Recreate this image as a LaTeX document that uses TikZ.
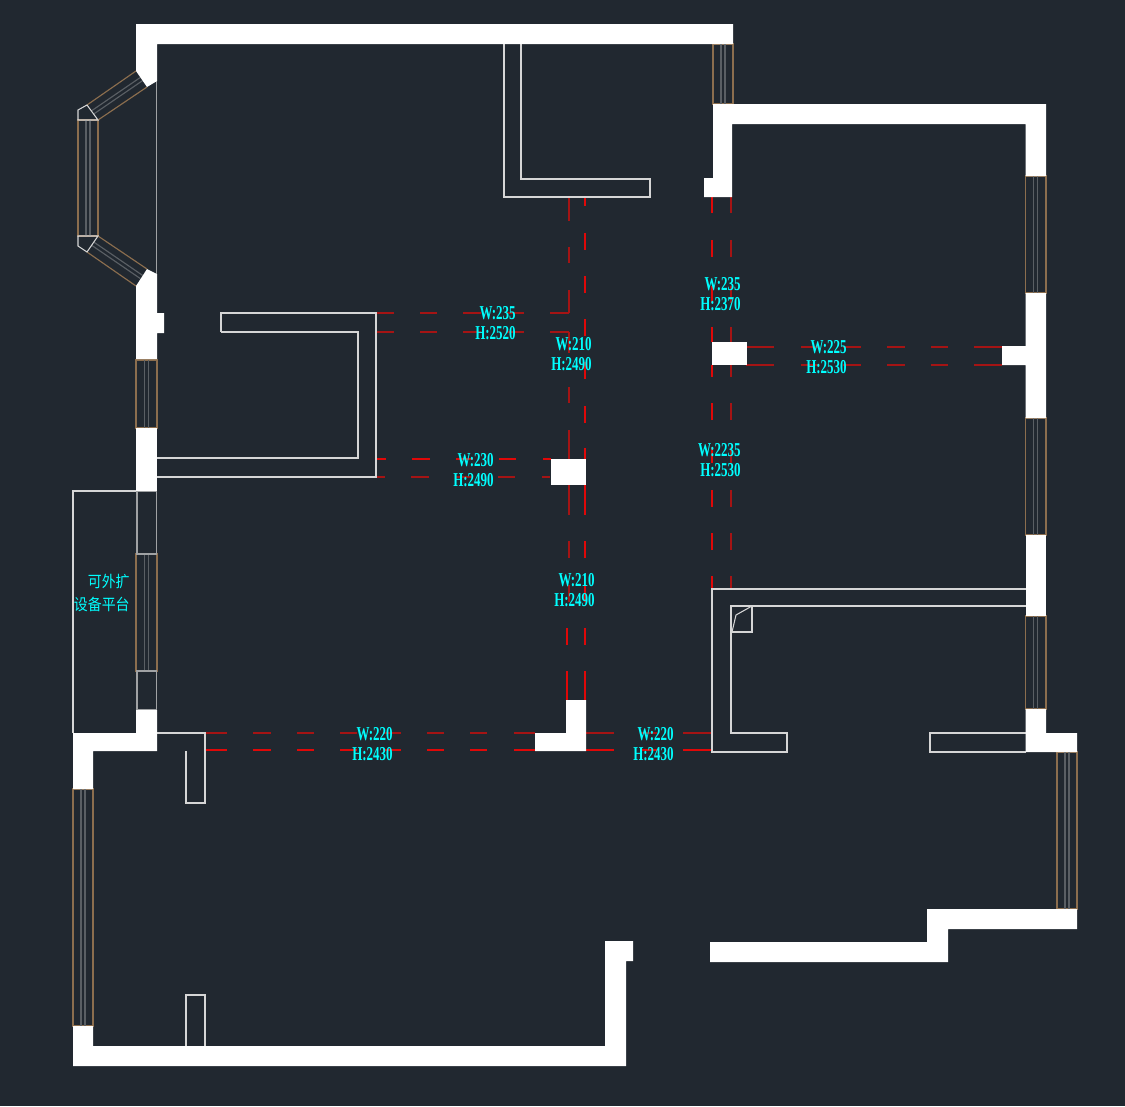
\documentclass[tikz,border=0pt]{standalone}
\usepackage{fontspec}
\setmainfont{Liberation Serif}
\newfontfamily\dimfont[FakeStretch=0.66]{Liberation Serif}
\newfontfamily\cjkfont[FakeStretch=0.88]{Noto Sans CJK SC}
\definecolor{bgcol}{HTML}{212830}
\definecolor{dimred}{HTML}{E00808}
\definecolor{dimdark}{HTML}{A51414}
\definecolor{dimtext}{HTML}{00FFFF}
\definecolor{winbrown}{HTML}{8C6E4E}
\definecolor{wingrey}{HTML}{5A5F64}
\definecolor{outl}{HTML}{D6D6D6}

\begin{document}
\begin{tikzpicture}[x=0.02cm, y=-0.02cm, line join=miter]

		\tikzstyle{wall}=[fill=white, draw=none]
		\tikzstyle{outline}=[draw=outl, line width=0.6pt]
		\tikzstyle{win}=[draw=winbrown, line width=0.65pt]
		\tikzstyle{glass}=[draw=wingrey, line width=0.65pt]
		\tikzstyle{axisbright}=[draw=dimred, line width=0.95pt]
		\tikzstyle{axisdark}=[draw=dimdark, line width=0.95pt]
		\tikzstyle{dimlabel}=[text=dimtext, inner sep=0pt, anchor=east, font=\dimfont\bfseries\fontsize{11.2}{12}\selectfont]
		\tikzstyle{cjklabel}=[text=dimtext, inner sep=0pt, anchor=east, font=\cjkfont\fontsize{9}{10}\selectfont]

		\fill[bgcol] (0,0) rectangle (1125,1106);
		\useasboundingbox (0,0) rectangle (1125,1106);

		% Dashed axes, vertical
		\foreach \ya/\yb in {197/221, 247/263, 290/313, 332/353, 387/403, 430/459}
			\draw[axisdark] (568.7,\ya) -- (568.7,\yb);
		\foreach \ya/\yb in {197/206, 233/250, 276/293, 319/336, 362/379, 406/423, 448/459, 485/515, 541/558, 585/602, 628/645, 671/700}
			\draw[axisbright] (585.3,\ya) -- (585.3,\yb);
		\foreach \ya/\yb in {485/515, 541/558, 585/602}
			\draw[axisdark] (568.7,\ya) -- (568.7,\yb);
		\foreach \ya/\yb in {628/645, 671/700}
			\draw[axisbright] (567.3,\ya) -- (567.3,\yb);
		\foreach \ya/\yb in {197/213, 240/257, 286/303, 327/342, 365/377, 403/420, 447/463, 490/507, 533/550, 576/589} {
			\draw[axisbright] (712.3,\ya) -- (712.3,\yb);
			\draw[axisdark] (731.3,\ya) -- (731.3,\yb);
		}

		% Dashed axes, horizontal
		\foreach \xa/\xb in {376/394, 420/437, 463/481, 507/524, 550/569} {
			\draw[axisdark] (\xa,313) -- (\xb,313);
			\draw[axisdark] (\xa,332) -- (\xb,332);
		}
		\foreach \xa/\xb in {376/386, 412/430, 456/473, 499/516, 543/551} {
			\draw[axisbright] (\xa,458.7) -- (\xb,458.7);
			\draw[axisdark] (\xa-1,477) -- (\xb-1,477);
		}
		\foreach \xa/\xb in {746/774, 801/818, 843/861, 887/905, 931/948, 974/1002} {
			\draw[axisdark] (\xa,346.7) -- (\xb,346.7);
			\draw[axisdark] (\xa,365) -- (\xb,365);
		}
		\foreach \xa/\xb in {205/227, 253/271, 297/314, 340/357, 383/401, 427/444, 470/487, 514/535, 586/614, 640/657, 683/712} {
			\draw[axisdark] (\xa,733) -- (\xb,733);
			\draw[axisbright] (\xa,750.3) -- (\xb,750.3);
		}

		% Windows
		\foreach \xa/\xb/\ya/\yb in {713/733/44/104, 1025.5/1046/176/293, 1025.5/1046/418/535, 1025.5/1046/616/709, 1057/1077/752/909, 136/157/360/428, 136/157/554/671, 73/93/789/1026, 78/98/120/236} {
			\draw[win] (\xa,\ya) rectangle (\xb,\yb);
			\draw[glass] ({(\xa+\xb)/2-2},\ya) -- ({(\xa+\xb)/2-2},\yb);
			\draw[glass] ({(\xa+\xb)/2+2},\ya) -- ({(\xa+\xb)/2+2},\yb);
		}
		\draw[win] (136,71) -- (87,105) (147,87) -- (98,120);
		\draw[win] (136,286) -- (87,252) (147,269) -- (98,236);
		\draw[glass] (140.4,77.4) -- (91.4,110.9) (142.6,80.6) -- (93.6,114.1);
		\draw[glass] (140.4,278.6) -- (91.4,245.1) (142.6,275.4) -- (93.6,241.9);
		\draw[outline] (78,120) -- (78,110) -- (87,105) -- (98,120) -- cycle;
		\draw[outline] (78,236) -- (78,246) -- (87,252) -- (98,236) -- cycle;

		% Thin outlines
		\draw[outline, draw=outl!70!bgcol] (156.5,81) -- (156.5,274);
		\draw[outline] (504,44) -- (504,197) -- (650,197) -- (650,179) -- (521,179) -- (521,44);
		\draw[outline] (221,332) -- (221,313) -- (376,313) -- (376,477) -- (157,477);
		\draw[outline] (157,458) -- (358,458) -- (358,332) -- (221,332);
		\draw[outline] (136,491) -- (73,491) -- (73,733);
		\draw[outline, draw=outl!70!bgcol] (137,491) rectangle (156.5,554);
		\draw[outline, draw=outl!70!bgcol] (137,671) rectangle (156.5,710);
		\draw[outline] (157,733) -- (205,733) -- (205,803) -- (186,803) -- (186,751);
		\draw[outline] (186,1046) -- (186,995) -- (205,995) -- (205,1046);
		\draw[outline] (1025.5,589) -- (712,589) -- (712,752) -- (787,752) -- (787,733) -- (731,733) -- (731,606) -- (1025.5,606);
		\draw[outline] (731,606) rectangle (752,632);
		\draw[outline] (752,606) -- (736,615) -- (732,632);
		\draw[outline] (1025.5,733) -- (930,733) -- (930,752) -- (1025.5,752);

		% Walls
		\fill[wall] (136,24) -- (733,24) -- (733,44) -- (157,44) -- (157,81) -- (147,87) -- (136,71) -- cycle;
		\fill[wall] (157,274) -- (147,269) -- (136,286) -- (136,359) -- (157,359) -- (157,333) -- (164,333) -- (164,313) -- (157,313) -- cycle;
		\fill[wall] (136,428) rectangle (157,491);
		\fill[wall] (136,710) -- (157,710) -- (157,751) -- (93,751) -- (93,789) -- (73,789) -- (73,733) -- (136,733) -- cycle;
		\fill[wall] (73,1026) -- (93,1026) -- (93,1046) -- (605,1046) -- (605,941) -- (633,941) -- (633,961) -- (626,961) -- (626,1066) -- (73,1066) -- cycle;
		\fill[wall] (713,104) -- (1046,104) -- (1046,176) -- (1025.5,176) -- (1025.5,124) -- (732,124) -- (732,197) -- (704,197) -- (704,178) -- (713,178) -- cycle;
		\fill[wall] (1025.5,293) -- (1046,293) -- (1046,418) -- (1025.5,418) -- (1025.5,365) -- (1002,365) -- (1002,346) -- (1025.5,346) -- cycle;
		\fill[wall] (1025.5,535) rectangle (1046,616);
		\fill[wall] (1025.5,709) -- (1046,709) -- (1046,733) -- (1077,733) -- (1077,752) -- (1025.5,752) -- cycle;
		\fill[wall] (927,909) -- (1077,909) -- (1077,929) -- (948,929) -- (948,962) -- (710,962) -- (710,942) -- (927,942) -- cycle;

		% Columns
		\fill[wall] (551,459) rectangle (586,485);
		\fill[wall] (712,342) rectangle (747,365);
		\fill[wall] (566,700) -- (586,700) -- (586,751) -- (535,751) -- (535,733) -- (566,733) -- cycle;

		% Labels
		\foreach \lx/\ly/\ltw/\lth [count=\i] in {516/313/235/2520, 592/344/210/2490, 741/284/235/2370, 847/347/225/2530, 494/460/230/2490, 741/450/2235/2530, 595/580/210/2490, 393/734/220/2430, 674/734/220/2430} {
			\node[dimlabel] (w\i) at (\lx,\ly) {W:\ltw};
			\node[dimlabel] (h\i) at (\lx,\ly+20.5) {H:\lth};
		}
		\node[cjklabel] (c1) at (130,582) {可外扩};
		\node[cjklabel] (c2) at (130,604) {设备平台};

\end{tikzpicture}
\end{document}
